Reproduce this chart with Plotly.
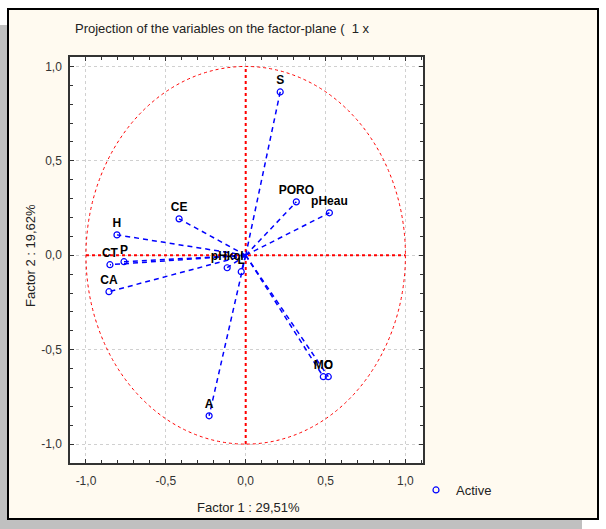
import plotly.graph_objects as go

# variable coordinates on factor 1 / factor 2
variables = ['S', 'PORO', 'pHeau', 'CE', 'H', 'P', 'CT', 'CA', 'pHkcl', 'L', 'A', 'MO', 'C']
factor1 = [0.216, 0.317, 0.524, -0.417, -0.806, -0.762, -0.85, -0.856, -0.116, -0.028, -0.229, 0.486, 0.517]
factor2 = [0.865, 0.283, 0.225, 0.193, 0.108, -0.034, -0.05, -0.193, -0.066, -0.087, -0.85, -0.643, -0.643]

tick_vals = [-1.0, -0.5, 0.0, 0.5, 1.0]
tick_text = ['-1,0', '-0,5', '0,0', '0,5', '1,0']

BLUE = '#0000ff'
RED = '#ff0000'
FONT = 'Liberation Sans'

fig = go.Figure()

for name, x, y in zip(variables, factor1, factor2):
    fig.add_trace(
        go.Scatter(
            x=[0, x], y=[0, y],
            mode='lines',
            line=dict(color=BLUE, width=1.5, dash='5px,4px'),
            showlegend=False,
            hoverinfo='skip'
        )
    )

fig.add_trace(
    go.Scatter(
        x=factor1, y=factor2,
        mode='markers+text',
        text=variables,
        textposition='top center',
        textfont=dict(family=FONT, size=12, color='black', weight='bold'),
        marker=dict(symbol='circle-open', size=6, color=BLUE, line=dict(width=1.2)),
        name='Active'
    )
)

# plot area in pixels: x 70..423, y 57..463
L, R, T, B = 70, 423, 57, 463
W, H = 606, 529


def px(x):
    return (x - L) / (R - L)


def py(y):
    return (B - y) / (B - T)


shapes = [
    # shadow
    dict(type='rect', xref='paper', yref='paper', x0=px(0), x1=px(582), y0=py(529), y1=py(25),
         fillcolor='#c0c0c0', line=dict(width=0), layer='below'),
    # panel
    dict(type='rect', xref='paper', yref='paper', x0=px(8), x1=px(598), y0=py(519), y1=py(9),
         fillcolor='#fffaf0', line=dict(color='black', width=2), layer='below'),
    # plot area
    dict(type='rect', xref='paper', yref='paper', x0=0, x1=1, y0=0, y1=1,
         fillcolor='white', line=dict(width=0), layer='below'),
    # unit circle and axes
    dict(type='circle', xref='x', yref='y', x0=-1, x1=1, y0=-1, y1=1,
         line=dict(color=RED, width=1, dash='dot'), layer='between'),
    dict(type='line', xref='x', yref='y', x0=-1, x1=1, y0=0, y1=0,
         line=dict(color=RED, width=2, dash='dot'), layer='between'),
    dict(type='line', xref='x', yref='y', x0=0, x1=0, y0=-1, y1=1,
         line=dict(color=RED, width=2, dash='dot'), layer='between'),
]

axis_style = dict(
    tickvals=tick_vals, ticktext=tick_text,
    ticks='inside', ticklen=4, tickcolor='#333',
    minor=dict(dtick=0.1, ticks='inside', ticklen=3, tickcolor='#333', showgrid=False),
    showline=True, linecolor='#333', linewidth=1.5, mirror='ticks',
    showgrid=True, gridcolor='#d0d0d0', griddash='dot', gridwidth=1,
    zeroline=False,
    tickfont=dict(family=FONT, size=12, color='#333'),
)

fig.update_layout(
    width=W, height=H,
    margin=dict(l=L, r=W - R, t=T, b=H - B),
    paper_bgcolor='white', plot_bgcolor='white',
    shapes=shapes,
    xaxis=dict(range=[-1.1, 1.11], ticklabelstandoff=6, **axis_style),
    yaxis=dict(range=[-1.1, 1.05], ticklabelstandoff=4, **axis_style),
    title=dict(text='Projection of the variables on the factor-plane ( &nbsp;1 x',
               x=75 / W, xanchor='left', xref='container',
               y=1 - 28 / H, yanchor='middle', yref='container',
               font=dict(family=FONT, size=13, color='#222')),
    annotations=[
        dict(text='Factor 1 : 29,51%', xref='paper', yref='paper', x=px(248), y=py(507),
             xanchor='center', yanchor='middle',
             showarrow=False, font=dict(family=FONT, size=13, color='#222')),
        dict(text='Factor 2 : 19,62%', xref='paper', yref='paper', x=px(30), y=py(256),
             xanchor='center', yanchor='middle',
             textangle=-90, showarrow=False, font=dict(family=FONT, size=13, color='#222')),
    ],
    legend=dict(x=px(416), y=py(490), xanchor='left', yanchor='middle',
                bgcolor='rgba(0,0,0,0)', itemwidth=30,
                font=dict(family=FONT, size=13, color='#222')),
    showlegend=True,
)

fig.write_html('out.html', config={'displayModeBar': False},
               post_script="document.body.style.margin='0';")
